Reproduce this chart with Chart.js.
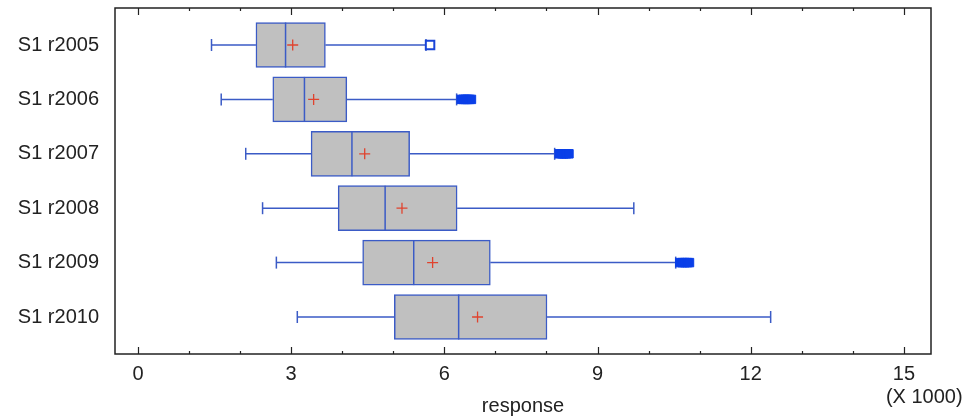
<!DOCTYPE html>
<html>
<head>
<meta charset="utf-8">
<script src="https://cdn.jsdelivr.net/npm/chart.js@4/dist/chart.umd.min.js"></script>
<style>
html,body{margin:0;padding:0;background:#fff}
canvas{display:block}
</style>
</head>
<body>
<canvas id="chart" width="978" height="418"></canvas>
<script>
// values in thousands (axis shows "X 1000")
const cats = ["S1 r2005","S1 r2006","S1 r2007","S1 r2008","S1 r2009","S1 r2010"]
const lows    = [1.44, 1.63, 2.11, 2.44, 2.71, 3.12]
const q1s     = [2.31, 2.64, 3.39, 3.92, 4.40, 5.02]
const medians = [2.89, 3.26, 4.19, 4.84, 5.40, 6.28]
const means   = [3.03, 3.44, 4.44, 5.17, 5.77, 6.65]
const q3s     = [3.67, 4.09, 5.32, 6.25, 6.90, 8.01]
const highs   = [5.64, 6.24, 8.16, 9.71, 10.53, 12.39]
const outliers = [
  [5.72],
  [6.33, 6.37, 6.41, 6.45, 6.49, 6.53],
  [8.25, 8.30, 8.34, 8.39, 8.44],
  [],
  [10.61, 10.66, 10.71, 10.76, 10.80],
  []
]
const xTicks = [0, 3, 6, 9, 12, 15]

const blue = "#3b5bc6"
const font = {family:"'Liberation Sans', Arial, sans-serif", size:20}

let whisk = []
let caps = []
cats.forEach((c,i)=>{
  whisk.push({x:lows[i],y:i},{x:q1s[i],y:i},{x:NaN,y:i})
  whisk.push({x:q3s[i],y:i},{x:highs[i],y:i},{x:NaN,y:i})
  caps.push({x:lows[i],y:i},{x:highs[i],y:i})
})

let outFilled = []
let outOpen = []
outliers.forEach((list,i)=>{
  list.forEach(v=>{
    if(list.length==1) outOpen.push({x:v,y:i})
    else outFilled.push({x:v,y:i})
  })
})

// inner tick marks + frame + multiplier note
const frame = {
  id:"frame",
  afterDraw(chart){
    const ctx = chart.ctx
    const a = chart.chartArea
    const xs = chart.scales.x
    ctx.save()
    ctx.strokeStyle = "#222"
    ctx.lineWidth = 1.5
    ctx.strokeRect(a.left, a.top, a.right-a.left, a.bottom-a.top)
    ctx.lineWidth = 1.2
    for(let v=0; v<=15; v++){
      const px = Math.round(xs.getPixelForValue(v))+0.5
      const len = v%3==0 ? 7 : 3
      ctx.beginPath()
      ctx.moveTo(px, a.bottom); ctx.lineTo(px, a.bottom-len)
      ctx.moveTo(px, a.top); ctx.lineTo(px, a.top+len)
      ctx.stroke()
    }
    ctx.fillStyle = "#222"
    ctx.font = "20px 'Liberation Sans', Arial, sans-serif"
    ctx.textBaseline = "middle"
    ctx.textAlign = "left"
    ctx.fillText("(X 1000)", xs.getPixelForValue(15)-18, 397)
    ctx.restore()
  }
}

new Chart(document.getElementById("chart"),{
  type:"bar",
  data:{
    datasets:[
      {
        type:"scatter", data:means.map((m,i)=>({x:m,y:i})),
        pointStyle:"cross", pointRadius:5.5, borderColor:"#e0432e", borderWidth:1.3
      },
      {
        type:"scatter", data:medians.map((m,i)=>({x:m,y:i})),
        pointStyle:"line", rotation:90, pointRadius:22.5, borderColor:blue, borderWidth:1.5
      },
      {
        type:"scatter", data:outFilled,
        pointStyle:"rect", pointRadius:6, backgroundColor:"#0a3fe8", borderColor:"#0a3fe8", borderWidth:1
      },
      {
        type:"scatter", data:outOpen,
        pointStyle:"rect", pointRadius:6, backgroundColor:"#fff", borderColor:"#1a45d8", borderWidth:2
      },
      {
        type:"scatter", data:caps,
        pointStyle:"line", rotation:90, pointRadius:6, borderColor:blue, borderWidth:1.5
      },
      {
        type:"scatter", data:whisk, showLine:true, spanGaps:false,
        pointRadius:0, borderColor:blue, borderWidth:1.5
      },
      {
        type:"bar",
        data:q1s.map((q,i)=>({x:[q,q3s[i]],y:i})),
        backgroundColor:"#c0c0c0", borderColor:blue, borderWidth:1.5,
        borderSkipped:false, barThickness:45
      }
    ]
  },
  options:{
    indexAxis:"y",
    responsive:false,
    animation:false,
    events:[],
    layout:{autoPadding:false, padding:{top:8,right:47,left:0,bottom:0}},
    plugins:{legend:{display:false},tooltip:{enabled:false}},
    scales:{
      x:{
        type:"linear", position:"bottom", min:-0.45, max:15.53,
        afterBuildTicks:s=>{ s.ticks = xTicks.map(v=>({value:v})) },
        afterFit:s=>{ s.height = 64 },
        grid:{display:false, drawTicks:false},
        border:{display:false},
        ticks:{font:font, color:"#222", padding:8, maxRotation:0},
        title:{display:true, text:"response", font:font, color:"#222", padding:0}
      },
      y:{
        type:"linear", position:"left", reverse:true, offset:false, min:-0.68, max:5.68,
        afterBuildTicks:s=>{ s.ticks = cats.map((c,i)=>({value:i})) },
        afterFit:s=>{ s.width = 115; s.paddingTop = 0; s.paddingBottom = 0 },
        grid:{display:false, drawTicks:false, offset:false},
        border:{display:false},
        ticks:{font:font, color:"#222", padding:16, callback:v=>cats[v]}
      }
    }
  },
  plugins:[frame]
})
</script>
</body>
</html>
